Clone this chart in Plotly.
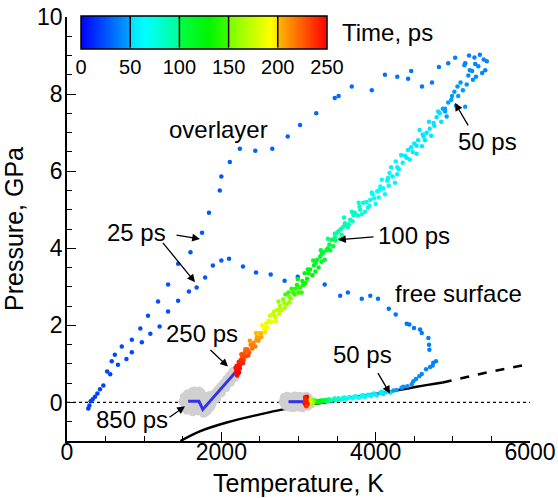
import plotly.graph_objects as go

FONT = "Liberation Sans, Arial, Helvetica, sans-serif"

# ---------------- data ----------------
# overlayer: rising part (early times)
ol_rise_T = [276, 307, 363, 428, 520, 580, 620, 710, 840, 950, 1050, 1180, 1310, 1440, 1600, 1750,
             1840, 1980, 2000, 2110, 2240, 2440, 2660, 2860, 3020, 3230, 3470, 3520, 3690, 3950,
             4120, 4280, 4420, 4460, 4600, 4730, 4820, 4940]
ol_rise_P = [-0.16, 0.03, 0.15, 0.34, 0.80, 1.07, 1.24, 1.45, 1.63, 1.92, 2.25, 2.62, 3.06, 3.60, 3.90, 4.40,
             4.92, 5.50, 5.86, 6.24, 6.58, 6.53, 6.58, 6.90, 7.20, 7.50, 7.90, 7.95, 8.20, 8.10,
             8.50, 8.45, 8.40, 8.60, 8.20, 8.30, 8.70, 8.80]
ol_rise_t = [18, 19, 19.5, 20, 20.5, 21, 21.5, 22, 22.5, 23, 23.5, 24, 24.5, 25, 25.5, 26,
             26.5, 27, 27.5, 28, 28.5, 29, 29.5, 30, 30.5, 31, 31.5, 32, 32.5, 33,
             33.5, 34, 34.5, 35, 35.5, 36, 36.5, 37]

# overlayer: descending band (later times)
band_T = [5030, 5160, 5210, 5280, 5350, 5400, 5440, 5420, 5330, 5250, 5300, 5200, 5150, 5260, 5180, 5100,
          5130, 5070, 5020, 5160, 4980, 5040, 4940, 4900, 4870, 4830, 4790, 4850, 4750, 4700, 4660, 4640,
          4720, 4570, 4550, 4600, 4500, 4480, 4420, 4440, 4380, 4350, 4300, 4260, 4220, 4250, 4180, 4150,
          4100, 4060, 4120, 4020, 3980, 4000, 3930, 3900, 3840, 3860, 3800, 3770, 3730, 3700, 3670, 3640,
          3600, 3580, 3560, 3520, 3500, 3480, 3430, 3450, 3400, 3360, 3320, 3340, 3280, 3240, 3260, 3200,
          3150, 3180, 3110, 3080, 3060, 3020, 3040, 2980, 2950, 2930, 2900, 2870, 2850, 2800, 2820, 2760,
          2750, 2720, 2700, 2680, 2650, 2630, 2600, 2580, 2560, 2540, 2520, 2500, 2480, 2460, 2440, 2420,
          2400, 2380, 2360, 2340, 2320, 2300, 2290, 2270, 2260, 2250, 2240, 2230, 2220, 2210, 2200, 2215,
          2195, 2205, 2190, 2285, 2335, 2395, 2455, 2515, 2575, 2635, 2695, 2755, 2815, 2880, 2960, 3050,
          3130, 3220, 3300, 3380, 3470, 3550, 3620, 3710, 3790, 3880, 3960, 4050, 4160, 4280, 4400, 4530,
          4620, 4760, 4900,
          5380, 5290, 5220, 5060, 4990, 4920, 4810, 4690, 4610, 4530, 4460, 4330, 4280, 4200, 4170, 4080,
          4040, 3950, 3920, 3820, 3780, 3690, 3650, 3590, 3540, 3470, 3410, 3380, 3300, 3290, 3220, 3190,
          3120, 3090, 3000, 2990, 2910, 2880, 2830, 2780, 2740, 2710, 2660, 2610, 2570, 2530, 2490, 2450,
          2410, 2370, 2350, 2310, 2280, 2260, 2240, 2225, 2210, 2230, 2185, 2200]
band_P = [8.94, 8.80, 9.00, 8.95, 9.02, 8.90, 8.85, 8.62, 8.72, 8.60, 8.45, 8.48, 8.75, 8.37, 8.25, 8.30,
          8.10, 7.95, 8.06, 7.67, 7.85, 7.70, 7.78, 7.55, 7.62, 7.50, 7.40, 7.28, 7.25, 7.10, 7.00, 6.80,
          6.92, 7.07, 6.80, 6.65, 6.72, 6.50, 6.55, 6.30, 6.40, 6.22, 6.05, 6.25, 5.86, 5.70, 5.95, 5.75,
          5.55, 5.60, 5.40, 5.48, 5.30, 5.15, 5.26, 5.05, 5.18, 4.95, 5.00, 4.85, 4.92, 4.70, 4.74, 4.55,
          4.65, 4.56, 4.35, 4.45, 4.40, 4.20, 4.22, 4.05, 4.10, 3.95, 3.89, 3.70, 3.78, 3.70, 3.50, 3.55,
          3.45, 3.30, 3.21, 3.35, 3.05, 2.98, 2.85, 3.05, 2.80, 2.85, 2.70, 2.85, 2.55, 2.67, 2.45, 2.50,
          2.30, 2.40, 2.20, 2.35, 2.10, 2.25, 1.95, 2.05, 1.85, 1.95, 1.70, 1.80, 1.60, 1.70, 1.45, 1.55,
          1.40, 1.50, 1.30, 1.38, 1.20, 1.28, 1.10, 1.18, 1.02, 1.10, 0.95, 1.00, 0.88, 0.92, 0.80, 0.75,
          0.85, 0.70, 0.78, 1.20, 1.33, 1.48, 1.62, 1.78, 1.92, 2.08, 2.24, 2.40, 2.58, 2.74, 2.95, 3.15,
          3.35, 3.62, 3.85, 4.00, 4.28, 4.50, 4.60, 4.86, 5.08, 5.20, 5.40, 5.52, 5.82, 6.10, 6.35, 6.66,
          6.90, 7.18, 7.62,
          8.55, 8.78, 8.62, 8.20, 7.95, 7.42, 7.55, 7.28, 6.95, 6.45, 6.62, 6.42, 5.92, 6.10, 5.62, 5.78,
          5.32, 5.45, 5.10, 4.88, 5.18, 4.95, 4.62, 4.80, 4.25, 4.38, 3.95, 4.25, 3.65, 3.95, 3.40, 3.68,
          3.45, 3.10, 2.85, 3.20, 2.95, 2.60, 2.80, 2.40, 2.62, 2.10, 2.28, 2.12, 1.82, 2.00, 1.68, 1.80,
          1.48, 1.60, 1.22, 1.38, 1.02, 1.25, 0.88, 1.05, 0.82, 0.78, 0.90, 0.95]
band_t = [37.5, 38, 38.5, 39, 39.5, 40, 40.5, 41, 41.5, 42, 42.5, 43, 43.5, 44, 44.5, 45,
          45.5, 46, 46.5, 47, 47.5, 48, 48.5, 49, 49.5, 50, 50.5, 51, 51.5, 52, 52.5, 53,
          53.5, 54, 54.5, 55, 55.5, 56, 56.5, 57, 57.5, 58, 59, 59.5, 60, 61, 62, 63,
          64, 65, 66, 67, 68, 69, 71, 73, 75, 77, 79, 81, 83, 85, 87, 89,
          91, 92, 95, 94, 96, 100, 100, 104, 103, 107, 108, 113, 111, 113, 121, 119,
          123, 128, 131, 126, 138, 141, 146, 138, 148, 146, 155, 146, 162, 156, 167, 165,
          175, 170, 180, 172, 185, 177, 192, 187, 197, 192, 205, 200, 210, 205, 218, 212,
          220, 215, 226, 221, 232, 227, 237, 233, 241, 237, 244, 242, 246, 245, 249, 250,
          247, 250, 249, 232, 224, 216, 209, 201, 194, 186, 178, 170, 161, 153, 143, 133,
          126, 116, 109, 106, 99, 93, 89, 84, 79, 73, 69, 65, 61, 58, 56, 54,
          53, 51, 49,
          41, 40, 42, 45, 47, 49, 50, 51.5, 53, 55, 55.5, 57.5, 59, 60, 62, 64,
          66, 69, 71, 76, 78, 82, 86, 88, 99, 96, 107, 99, 115, 107, 125, 114,
          123, 136, 146, 131, 142, 160, 148, 170, 158, 185, 176, 184, 199, 189, 206, 200,
          216, 210, 231, 222, 241, 229, 246, 240, 249, 250, 246, 244]

# free surface: excursion (early times)
fs_T = [290, 333, 393, 471, 560, 660, 770, 840, 970, 1080, 1200, 1310, 1440, 1580, 1680, 1790,
        1890, 2000, 2100, 2280, 2450, 2640, 2820, 2990, 3340, 3540, 3640, 3820, 3930, 4030, 4170,
        4260, 4402, 4436, 4497, 4575, 4597, 4683, 4692, 4696, 4782, 4747, 4739, 4705, 4653, 4597,
        4566, 4523, 4488, 4467, 4410, 4358, 4336, 4272, 4190]
fs_P = [-0.08, 0.08, 0.23, 0.44, 0.73, 0.98, 1.13, 1.30, 1.56, 1.78, 1.97, 2.36, 2.64, 2.88, 2.98, 3.24,
        3.55, 3.68, 3.73, 3.53, 3.37, 3.32, 3.16, 3.26, 3.06, 2.77, 2.85, 2.69, 2.77, 2.69, 2.43,
        2.28, 2.04, 2.02, 1.93, 1.89, 1.80, 1.67, 1.50, 1.37, 1.07, 1.03, 0.96, 0.92, 0.86, 0.74,
        0.68, 0.61, 0.55, 0.47, 0.42, 0.41, 0.38, 0.32, 0.26]
fs_t = [18, 19, 19.5, 20, 20.5, 21, 21.5, 22, 22.5, 23, 23.5, 24, 24.5, 25, 25.5, 26,
        26.5, 27, 27.5, 28, 28.5, 29, 29.5, 30, 31, 31.5, 32, 32.5, 33, 33.5, 34,
        34.5, 35, 35.5, 36, 36.5, 37, 37.5, 38, 38.5, 39, 39.5, 40, 40.5, 41, 41.5,
        42, 42.5, 43, 43.5, 44, 45, 46, 48, 50]

# free surface: along the binodal (later times)
fsb_T = [4140, 4100, 4060, 4013, 3980, 3940, 3900, 3860, 3820, 3780, 3740, 3700, 3660, 3620, 3580,
         3550, 3520, 3490, 3460, 3430, 3400, 3380, 3360, 3340, 3320, 3300, 3285, 3270, 3255, 3240,
         3225, 3210, 3200, 3190, 3180, 3170, 3160, 3150, 3140, 3130, 3125, 3120, 3115, 3110, 3105,
         3100, 3095, 3090, 3085, 3080, 3095, 3110, 3100, 3120, 3085, 3105, 4230, 4080, 3960, 3840,
         3720, 3600, 3470]
fsb_P = [0.27, 0.22, 0.25, 0.19, 0.23, 0.17, 0.20, 0.14, 0.18, 0.12, 0.16, 0.10, 0.14, 0.09, 0.12,
         0.07, 0.11, 0.06, 0.09, 0.05, 0.08, 0.03, 0.07, 0.04, 0.06, 0.02, 0.05, 0.01, 0.04, 0.00,
         0.04, 0.01, 0.06, 0.00, 0.05, -0.02, 0.04, 0.00, 0.07, -0.03, 0.05, 0.10, -0.05, 0.02, 0.12,
         -0.04, 0.08, 0.00, 0.14, -0.02, -0.08, 0.15, 0.06, -0.04, 0.09, -0.10, 0.31, 0.28, 0.22, 0.19,
         0.15, 0.13, 0.10]
fsb_t = [52, 53, 54, 56, 57, 58, 60, 61, 62, 64, 65, 67, 69, 71, 74,
         76, 79, 82, 86, 90, 94, 97, 100, 104, 108, 112, 116, 120, 125, 130,
         135, 140, 145, 150, 155, 160, 166, 172, 178, 184, 190, 196, 202, 208, 214,
         220, 226, 232, 238, 244, 248, 250, 247, 243, 240, 236, 48, 55, 59, 63,
         68, 73, 85]

# late times (> 250 ps), shown in gray
gray_ol_T = [2190, 2160, 2130, 2100, 2070, 2040, 2010, 1980, 1950, 1920, 1890, 1860, 1830, 1800, 1775,
             2150, 2110, 2070, 2030, 1990, 1950, 1910, 1870, 1830, 2175, 2120, 2060, 2000, 1940, 1880, 1820,
             1500, 1520, 1540, 1560, 1580, 1600, 1620, 1640, 1660, 1680, 1700, 1720, 1740, 1760, 1780,
             1800, 1820, 1840, 1860, 1880, 1530, 1570, 1610, 1650, 1690, 1730, 1770, 1810, 1850, 1550,
             1630, 1710, 1790, 1870]
gray_ol_P = [0.85, 0.78, 0.70, 0.62, 0.55, 0.48, 0.40, 0.33, 0.26, 0.19, 0.12, 0.05, -0.02, -0.09, -0.16,
             0.80, 0.70, 0.60, 0.50, 0.41, 0.32, 0.23, 0.14, 0.05, 0.65, 0.52, 0.38, 0.25, 0.10, -0.03, -0.18,
             0.02, 0.15, -0.10, 0.22, 0.05, -0.16, 0.28, 0.12, -0.05, 0.20, -0.22, 0.08, 0.25, -0.12, 0.04,
             0.15, -0.22, 0.08, -0.12, 0.02, -0.05, 0.10, 0.02, 0.30, 0.12, -0.10, -0.28, 0.02, 0.18, -0.20,
             -0.24, 0.30, -0.26, -0.08]
gray_fs_T = [2800, 2815, 2830, 2850, 2865, 2880, 2900, 2915, 2930, 2950, 2965, 2980, 3000, 3015, 3030,
             3050, 3065, 3080, 3100, 3120, 3140, 3160, 2840, 2890, 2940, 2990, 3040, 3090, 2820, 2870,
             2920, 2970, 3020, 3070, 3130]
gray_fs_P = [0.02, 0.13, -0.08, 0.16, 0.00, -0.12, 0.14, 0.04, -0.14, 0.17, -0.04, 0.10, -0.12, 0.16, 0.02,
             -0.14, 0.12, -0.06, 0.16, -0.10, 0.08, -0.04, 0.06, 0.08, 0.08, 0.05, 0.07, 0.04, -0.05, -0.07,
             -0.06, -0.08, -0.03, 0.14, 0.12]

# averaged late-time paths (250 -> 850 ps)
late_ol_T = [2200, 1760, 1710, 1570]
late_ol_P = [0.82, -0.18, 0.03, 0.03]
late_fs_T = [2870, 3080]
late_fs_P = [0.02, 0.02]

# binodal curve (solid) and its extension (dashed)
bin_T = [1470, 1720, 2070, 2500, 2800, 3240, 3670, 4100, 4530, 4870]
bin_P = [-1.00, -0.75, -0.52, -0.31, -0.18, -0.03, 0.12, 0.25, 0.41, 0.52]
bin_ext_T = [4870, 5440, 6000]
bin_ext_P = [0.52, 0.78, 1.00]

zero_T = [0, 6000]
zero_P = [0, 0]

cbar_ticks = [0, 50, 100, 150, 200, 250]
cbar_lines = [50, 100, 150, 200]
cbar_title = "Time, ps"

# text labels: (text, T, P)
labels = [("overlayer", 1957, 7.07), ("25 ps", 907, 4.40), ("50 ps", 5455, 6.76),
          ("100 ps", 4497, 4.33), ("free surface", 5067, 2.82), ("250 ps", 1750, 1.79),
          ("850 ps", 842, -0.44), ("50 ps", 3823, 1.24)]
# arrows: (tail T, tail P, head T, head P)
arrows = [(1400, 4.35, 1723, 4.24), (1227, 4.18, 1659, 3.12), (5210, 7.15, 5028, 7.77),
          (3992, 4.30, 3512, 4.22), (1840, 1.40, 2086, 0.93), (1309, -0.41, 1529, -0.10),
          (4018, 0.80, 4186, 0.23)]

# ---------------- figure ----------------
colorscale = [[0.0, 'rgb(0,0,255)'], [0.2, 'rgb(0,165,255)'], [0.2, 'rgb(0,225,255)'],
              [0.26, 'rgb(0,255,255)'], [0.4, 'rgb(0,255,150)'], [0.4, 'rgb(0,255,70)'],
              [0.52, 'rgb(0,245,0)'], [0.6, 'rgb(60,255,0)'], [0.6, 'rgb(120,255,0)'],
              [0.77, 'rgb(255,255,0)'], [0.8, 'rgb(255,225,0)'], [0.8, 'rgb(255,185,0)'],
              [1.0, 'rgb(255,0,0)']]

fig = go.Figure()

fig.add_trace(go.Scatter(x=zero_T, y=zero_P, mode='lines',
                         line=dict(color='black', width=1.2, dash='dot'), hoverinfo='skip'))
fig.add_trace(go.Scatter(x=bin_T, y=bin_P, mode='lines', line_shape='spline',
                         line=dict(color='black', width=2.5)))
fig.add_trace(go.Scatter(x=bin_ext_T, y=bin_ext_P, mode='lines',
                         line=dict(color='black', width=2.5, dash='dash')))
fig.add_trace(go.Scatter(x=gray_ol_T + gray_fs_T, y=gray_ol_P + gray_fs_P, mode='markers',
                         marker=dict(color='rgb(208,208,208)', size=9, line=dict(width=0))))
fig.add_trace(go.Scatter(x=late_ol_T, y=late_ol_P, mode='lines',
                         line=dict(color='rgb(50,50,235)', width=3)))
fig.add_trace(go.Scatter(x=late_fs_T, y=late_fs_P, mode='lines',
                         line=dict(color='rgb(50,50,235)', width=3)))

allT = ol_rise_T + fs_T + band_T + fsb_T
allP = ol_rise_P + fs_P + band_P + fsb_P
allt = ol_rise_t + fs_t + band_t + fsb_t

plot_l, plot_r, plot_t, plot_b = 67, 28, 17, 57
W, H = 558, 498
pw = W - plot_l - plot_r
ph = H - plot_t - plot_b
cb_left_px, cb_len_px, cb_top_px, cb_thick = 81, 246, 16, 33
cb_x = (cb_left_px + cb_len_px / 2 - plot_l) / pw
cb_y = (H - plot_b - cb_top_px) / ph

fig.add_trace(go.Scatter(
    x=allT, y=allP, mode='markers',
    marker=dict(color=allt, colorscale=colorscale, cmin=0, cmax=250, size=4.5, line=dict(width=0),
                colorbar=dict(orientation='h', x=cb_x, xanchor='center', y=cb_y, yanchor='top',
                              len=cb_len_px, lenmode='pixels', thickness=cb_thick,
                              xpad=0, ypad=0, outlinewidth=1.5, outlinecolor='black',
                              ticks='', tickvals=cbar_ticks, tickangle=0,
                              tickfont=dict(family=FONT, size=20, color='black'))),
    hoverinfo='skip'))

annotations = []
for v in cbar_lines:
    xp = (cb_left_px + v / 250 * cb_len_px - plot_l) / pw
    annotations.append(dict(x=xp, y=cb_y, xref='paper', yref='paper', text='', showarrow=True,
                            ax=0, ay=cb_thick, arrowhead=0, arrowwidth=1.5, arrowcolor='black'))
annotations.append(dict(x=(cb_left_px + cb_len_px + 13 - plot_l) / pw,
                        y=(H - plot_b - (cb_top_px + cb_thick / 2)) / ph,
                        xref='paper', yref='paper', xanchor='left', yanchor='middle',
                        text=cbar_title, showarrow=False,
                        font=dict(family=FONT, size=24, color='black')))
for txt, tx, ty in labels:
    annotations.append(dict(x=tx, y=ty, xref='x', yref='y', text=txt, showarrow=False,
                            font=dict(family=FONT, size=24, color='black')))
for x0, y0, x1, y1 in arrows:
    annotations.append(dict(x=x1, y=y1, ax=x0, ay=y0, xref='x', yref='y', axref='x', ayref='y',
                            text='', showarrow=True, arrowhead=2, arrowsize=1.2, arrowwidth=1.3,
                            arrowcolor='black'))

axis_common = dict(showline=True, linecolor='black', linewidth=1.5, showgrid=False, zeroline=False,
                   ticks='inside', tickcolor='black', tickwidth=1.2, ticklen=9,
                   tickfont=dict(family=FONT, size=23, color='black'), automargin=False)

fig.update_layout(
    width=W, height=H, showlegend=False,
    plot_bgcolor='white', paper_bgcolor='white',
    margin=dict(l=plot_l, r=plot_r, t=plot_t, b=plot_b, pad=0, autoexpand=False),
    xaxis=dict(range=[0, 6000], dtick=2000, tick0=0, ticklabelstandoff=-10,
               minor=dict(dtick=500, ticks='inside', ticklen=5, tickcolor='black', tickwidth=1.2),
               title=dict(text='Temperature, K', font=dict(family=FONT, size=25, color='black'), standoff=10),
               **axis_common),
    yaxis=dict(range=[-1, 10], dtick=2, tick0=0, ticklabelstandoff=-2,
               minor=dict(dtick=0.5, ticks='inside', ticklen=5, tickcolor='black', tickwidth=1.2),
               title=dict(text='Pressure, GPa', font=dict(family=FONT, size=25, color='black'), standoff=6),
               **axis_common),
    annotations=annotations,
)

fig.write_html("out.html", config={'displayModeBar': False},
               post_script="document.body.style.margin='0';document.body.style.overflow='hidden';")
